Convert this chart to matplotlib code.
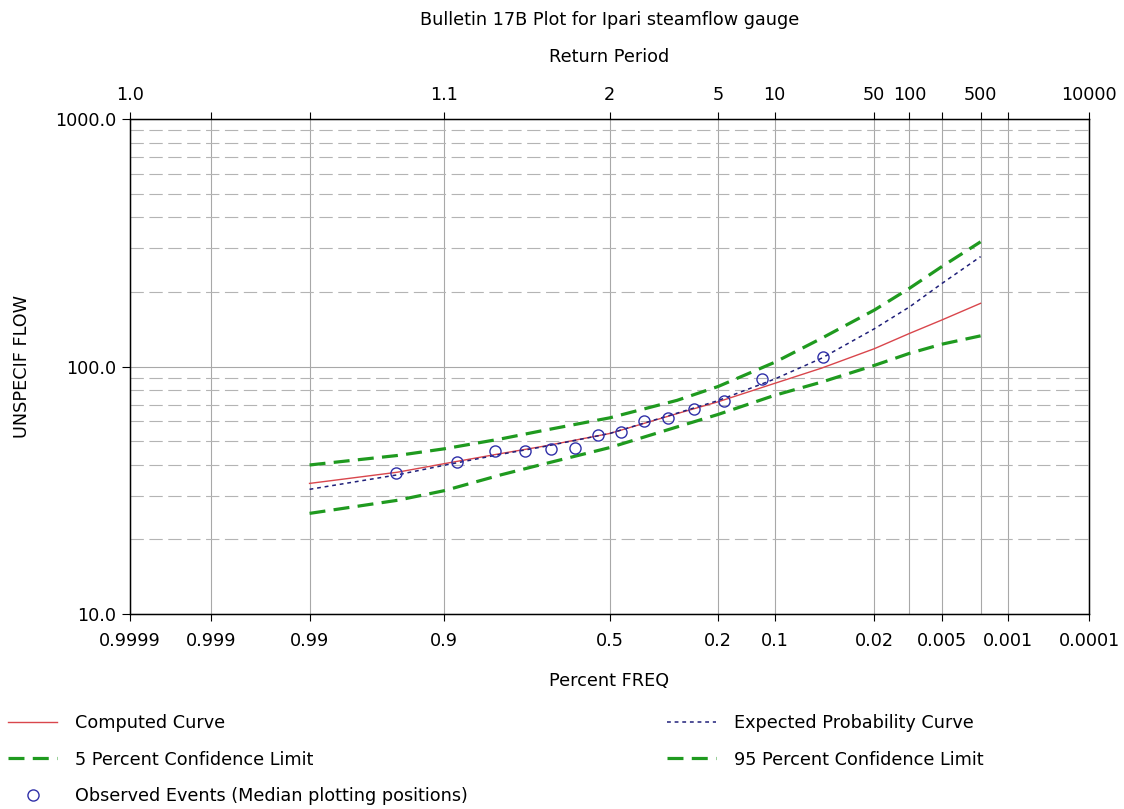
import numpy as np
import matplotlib
matplotlib.use("Agg")
import matplotlib.pyplot as plt
from statistics import NormalDist

# exceedance probability of the plotted curves
prob = [0.99, 0.95, 0.9, 0.8, 0.7, 0.5, 0.3, 0.2, 0.1, 0.05, 0.02, 0.01, 0.005, 0.002]
computed = [33.7, 37.4, 40.5, 44.5, 47.5, 53.6, 64.5, 72.0, 85.5, 98.5, 118, 136, 154, 180]
expected = [31.9, 36.5, 39.9, 44.2, 47.3, 53.6, 64.8, 72.8, 89.0, 108, 142, 174, 216, 278]
conf5 = [40.0, 43.7, 46.5, 51.0, 55.0, 62.0, 73.0, 83.0, 104, 130, 169, 207, 253, 319]
conf95 = [25.5, 28.8, 31.5, 36.5, 40.2, 47.0, 57.0, 64.0, 76.5, 86.5, 101, 113, 123, 133]

# observed peaks (median plotting positions)
obs_prob = [0.0486, 0.1181, 0.1875, 0.2569, 0.3264, 0.3958, 0.4653,
            0.5347, 0.6042, 0.6736, 0.7431, 0.8125, 0.8819, 0.9514]
obs_flow = [108.9, 89.0, 72.5, 67.3, 61.8, 60.4, 54.5,
            52.8, 46.9, 46.6, 45.6, 45.4, 41.2, 37.3]

# axis ticks
bottom_ticks = [0.9999, 0.999, 0.99, 0.9, 0.5, 0.2, 0.1, 0.02, 0.005, 0.001, 0.0001]
bottom_labels = ["0.9999", "0.999", "0.99", "0.9", "0.5", "0.2", "0.1",
                 "0.02", "0.005", "0.001", "0.0001"]
top_ticks = [0.9999, 0.999, 0.99, 0.9, 0.5, 0.2, 0.1, 0.02, 0.01, 0.005, 0.002, 0.001, 0.0001]
top_labels = ["1.0", "", "", "1.1", "2", "5", "10", "50", "100", "", "500", "", "10000"]
y_ticks = [10, 100, 1000]
y_labels = ["10.0", "100.0", "1000.0"]

nd = NormalDist()
_fwd = np.vectorize(lambda q: nd.inv_cdf(q), otypes=[float])
_inv = np.vectorize(lambda z: nd.cdf(z), otypes=[float])


def to_z(p):
    p = np.clip(np.asarray(p, dtype=float), 1e-9, 1 - 1e-9)
    return _fwd(p)


def from_z(z):
    return _inv(np.asarray(z, dtype=float))


plt.rcParams['font.family'] = 'DejaVu Sans'
plt.rcParams['font.size'] = 12.7

W, H = 1124, 809
fig = plt.figure(figsize=(W / 100, H / 100), dpi=100)
ax = fig.add_axes([130 / W, 195 / H, 959 / W, 495 / H])

ax.set_xscale('function', functions=(to_z, from_z))
ax.set_yscale('log')
ax.set_xlim(0.9999, 0.0001)
ax.set_ylim(10, 1000)

green = '#1f9a1f'
h_c5, = ax.plot(prob, conf5, color=green, lw=2.3, linestyle=(0, (5, 2.6)),
                label='5 Percent Confidence Limit', zorder=3)
h_c95, = ax.plot(prob, conf95, color=green, lw=2.3, linestyle=(0, (5, 2.6)),
                 label='95 Percent Confidence Limit', zorder=3)
h_comp, = ax.plot(prob, computed, color='#d9464c', lw=1.0,
                  label='Computed Curve', zorder=4)
h_exp, = ax.plot(prob, expected, color='#20207a', lw=1.1, linestyle=(0, (2.5, 2.5)),
                 label='Expected Probability Curve', zorder=4)
h_obs, = ax.plot(obs_prob, obs_flow, linestyle='none', marker='o', ms=8,
                 mfc='none', mec='#3030a8', mew=1.0,
                 label='Observed Events (Median plotting positions)', zorder=5)

# x axis (bottom)
ax.set_xticks(bottom_ticks, labels=bottom_labels)
ax.set_xticks([0.01, 0.002], minor=True)
ax.tick_params(axis='x', which='major', direction='out', length=5, pad=8)
ax.tick_params(axis='x', which='minor', length=0)
ax.grid(axis='x', which='both', color='#a8a8a8', lw=0.8, linestyle='-')

# y axis
ax.set_yticks(y_ticks, labels=y_labels)
ax.set_yticks([m * d for d in (10, 100) for m in range(2, 10)], minor=True)
ax.yaxis.set_minor_formatter(plt.NullFormatter())
ax.tick_params(axis='y', which='major', direction='out', length=6, pad=4)
ax.tick_params(axis='y', which='minor', length=0)
ax.grid(axis='y', which='major', color='#a8a8a8', lw=0.8, linestyle='-')
ax.grid(axis='y', which='minor', color='#b4b4b4', lw=0.8, linestyle=(0, (12, 5)))
ax.set_axisbelow(True)

for s in ax.spines.values():
    s.set_linewidth(1.0)
    s.set_color('black')

# return period axis on top
tw = ax.twiny()
tw.set_xscale('function', functions=(to_z, from_z))
tw.set_xlim(0.9999, 0.0001)
tw.set_xticks(top_ticks, labels=top_labels)
tw.xaxis.set_minor_locator(plt.NullLocator())
tw.tick_params(axis='x', direction='out', length=5, pad=6)

fig.text(609.5 / W, 1 - 20 / H, 'Bulletin 17B Plot for Ipari steamflow gauge',
         ha='center', va='center')
fig.text(609.5 / W, 1 - 57 / H, 'Return Period', ha='center', va='center')
fig.text(609.5 / W, 1 - 681 / H, 'Percent FREQ', ha='center', va='center')
fig.text(22 / W, 1 - 366 / H, 'UNSPECIF FLOW', ha='center', va='center', rotation=90)

leg_kw = dict(loc='upper left', frameon=False, borderpad=0, borderaxespad=0,
              handlelength=2.8, handletextpad=1.0, labelspacing=1.05, numpoints=1)
fig.legend(handles=[h_comp, h_c5, h_obs], bbox_to_anchor=(8 / W, 1 - 714 / H), **leg_kw)
fig.legend(handles=[h_exp, h_c95], bbox_to_anchor=(667 / W, 1 - 714 / H), **leg_kw)

fig.savefig('out.png', dpi=100)
